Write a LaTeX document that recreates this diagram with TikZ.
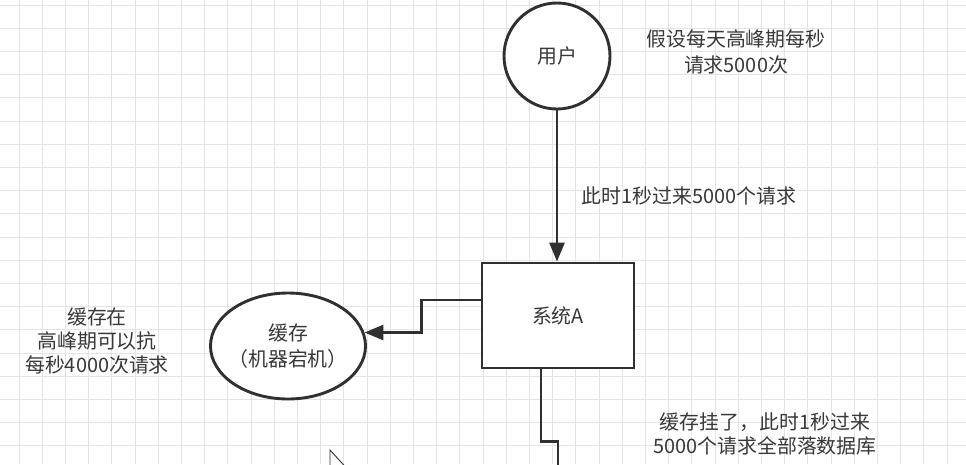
\documentclass[tikz,border=0pt]{standalone}
\usepackage{fontspec}
\newfontfamily\cjk{Noto Sans CJK SC}
\usetikzlibrary{arrows.meta,shapes.geometric}
\definecolor{gridc}{HTML}{E4E4E4}
\definecolor{ink}{HTML}{303030}
\definecolor{txt}{HTML}{383838}
\tikzset{
  lbl/.style={text=txt,font=\cjk\fontsize{19.9}{25.5}\selectfont,align=center,inner sep=0pt},
  shp/.style={draw=ink,line width=2.9pt,fill=white,text=txt,font=\cjk\fontsize{19.9}{25.5}\selectfont,align=center},
  conn/.style={draw=ink,line width=2.9pt,-{Triangle[length=19pt,width=15pt]}},
  wire/.style={draw=ink,line width=2.9pt},
  gridline/.style={draw=gridc,line width=1pt}
}
\begin{document}
\begin{tikzpicture}[x=1pt,y=-1pt]
\useasboundingbox (0,0) rectangle (966,464);
\clip (0,0) rectangle (966,464);
\fill[white] (0,0) rectangle (966,464);
\foreach \i in {0,...,41} \draw[gridline] (19+\i*23.2,0) -- (19+\i*23.2,464);
\foreach \j in {0,...,20} \draw[gridline] (0,5.1+\j*23.2) -- (966,5.1+\j*23.2);

\node[shp,circle,minimum size=106pt,inner sep=0pt] (user) at (557,56) {用户};
\node[shp,rectangle,minimum width=152pt,minimum height=105pt] (sysA) at (558,315.5) {系统A};
\node[shp,ellipse,minimum width=155pt,minimum height=106pt,inner xsep=-14pt,inner ysep=0pt] (cache) at (288,346) {缓存\\（机器宕机）};

\node[lbl] (t1) at (736,52) {假设每天高峰期每秒\\请求5000次};
\node[lbl] (t2) at (689,196) {此时1秒过来5000个请求};
\node[lbl,font=\cjk\fontsize{19.9}{24}\selectfont] (t3) at (97,341) {缓存在\\高峰期可以抗\\每秒4000次请求};
\node[lbl,font=\cjk\fontsize{19.9}{24.3}\selectfont] (t4) at (765,434) {缓存挂了，此时1秒过来\\5000个请求全部落数据库};

\draw[conn] (user.south) -- (user.south |- sysA.north);
\draw[conn] ([yshift=15.5pt]sysA.west) -- ++(-59,0) |- (cache.10);
\coordinate (out) at (558,470);
\draw[wire] ([xshift=-17pt]sysA.south) -- ++(0,72) -| (out);

% mouse cursor
\filldraw[fill=white,draw=ink,line width=0.9pt,line join=miter]
  (330,450) -- (330,474) -- (335.5,469) -- (339.5,478) -- (342.5,476.5) -- (338.5,467.5) -- (346,467.5) -- cycle;
\end{tikzpicture}
\end{document}
